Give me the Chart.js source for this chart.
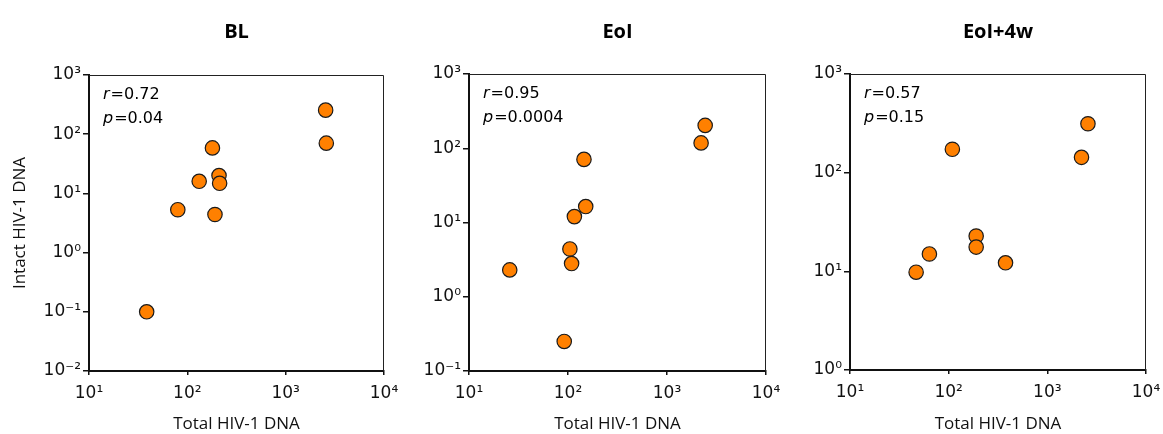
<!DOCTYPE html>
<html>
<head>
<meta charset="utf-8">
<script src="https://cdn.jsdelivr.net/npm/chart.js@4.4.1/dist/chart.umd.min.js"></script>
<style>
    body { margin: 0; background: #fff; }
    #wrap { position: relative; width: 1163px; height: 434px; }
    .panel { position: absolute; top: 0; height: 434px; }
</style>
</head>
<body>
<div id="wrap">
    <div class="panel" style="left:0px"><canvas id="chart-bl" width="400" height="434"></canvas></div>
    <div class="panel" style="left:390px"><canvas id="chart-eoi" width="390" height="434"></canvas></div>
    <div class="panel" style="left:775px"><canvas id="chart-eoi4w" width="388" height="434"></canvas></div>
</div>
<script>
const panelTitles = ['BL', 'EoI', 'EoI+4w']
const rValues = ['0.72', '0.95', '0.57']
const pValues = ['0.04', '0.0004', '0.15']

// Total HIV-1 DNA (x) and Intact HIV-1 DNA (y) per time point
const blTotal    = [2550, 2590, 180, 210, 213, 132, 80, 191, 38.6]
const blIntact   = [255, 70.6, 58.7, 20, 14.8, 16, 5.3, 4.4, 0.1]
const eoiTotal   = [2430, 2210, 145, 151, 116, 104.5, 108.7, 25.8, 91.6]
const eoiIntact  = [203, 118, 70.8, 16.4, 12, 4.4, 2.8, 2.3, 0.25]
const eoi4Total  = [2580, 2220, 109, 190, 190, 377, 63.8, 46.8]
const eoi4Intact = [313, 143, 172.6, 22.8, 17.6, 12.2, 15, 9.8]

const xTicks = [10, 100, 1000, 10000]
const blYTicks = [0.01, 0.1, 1, 10, 100, 1000]
const eoiYTicks = [0.1, 1, 10, 100, 1000]
const eoi4YTicks = [1, 10, 100, 1000]

const supMap = {'-': '⁻', '0': '⁰', '1': '¹', '2': '²', '3': '³', '4': '⁴'}

function powerLabel(v) {
    exp = Math.round(Math.log10(v))
    return '10' + String(exp).split('').map(c => supMap[c]).join('')
}

Chart.defaults.font.family = '"DejaVu Sans"'
Chart.defaults.color = '#111'

const panelDecor = {
    id: 'panelDecor',
    afterDraw(chart, args, opts) {
        const ctx = chart.ctx
        const a = chart.chartArea
        ctx.save()
        // thin top / right frame
        ctx.strokeStyle = '#222'
        ctx.lineWidth = 1
        ctx.beginPath()
        ctx.moveTo(a.left, a.top + 0.5)
        ctx.lineTo(a.right - 0.5, a.top + 0.5)
        ctx.lineTo(a.right - 0.5, a.bottom)
        ctx.stroke()
        // panel title
        ctx.fillStyle = '#000'
        ctx.textBaseline = 'middle'
        ctx.textAlign = 'center'
        ctx.font = 'bold 20px "Open Sans"'
        ctx.fillText(opts.title, (a.left + a.right) / 2, 32)
        // r and p
        ctx.textAlign = 'left'
        const lines = [['r', '=' + opts.r], ['p', '=' + opts.p]]
        lines.forEach((ln, i) => {
            let x = a.left + 14
            const y = a.top + 20 + i * 24
            ctx.font = 'italic 16px "DejaVu Sans"'
            ctx.fillText(ln[0], x, y)
            x += ctx.measureText(ln[0]).width + 1
            ctx.font = '16px "DejaVu Sans"'
            ctx.fillText(ln[1], x, y)
        })
        ctx.restore()
    }
}

function makePanel(canvasID, idx, totals, intacts, yTicks, yWidth, padRight, top, xHeight, showYTitle) {
    const pts = totals.map((v, i) => ({x: v, y: intacts[i]}))
    return new Chart(document.getElementById(canvasID), {
        type: 'scatter',
        data: {
            datasets: [{
                data: pts,
                backgroundColor: '#FF8000',
                borderColor: '#1a1a1a',
                borderWidth: 1.2,
                pointRadius: 7.2,
                pointHoverRadius: 7.2
            }]
        },
        plugins: [panelDecor],
        options: {
            responsive: false,
            animation: false,
            layout: { padding: { left: 0, right: padRight, top: top, bottom: 0 } },
            plugins: {
                legend: { display: false },
                tooltip: { enabled: false },
                panelDecor: { title: panelTitles[idx], r: rValues[idx], p: pValues[idx] }
            },
            scales: {
                x: {
                    type: 'logarithmic',
                    min: xTicks[0],
                    max: xTicks[xTicks.length - 1],
                    afterBuildTicks: (s) => { s.ticks = xTicks.map(v => ({value: v})) },
                    afterFit: (s) => { s.height = xHeight; s.paddingLeft = 0; s.paddingRight = 0 },
                    border: { display: true, color: '#111', width: 2 },
                    grid: { drawOnChartArea: false, drawTicks: true, tickLength: 4, color: '#111', lineWidth: 1.5 },
                    ticks: {
                        autoSkip: false, maxRotation: 0, padding: 8,
                        font: { size: 17 }, color: '#111',
                        callback: (v) => powerLabel(v)
                    },
                    title: {
                        display: true, text: 'Total HIV-1 DNA', color: '#111',
                        font: { family: 'Open Sans', size: 17 },
                        padding: { top: 0, bottom: 0 }
                    }
                },
                y: {
                    type: 'logarithmic',
                    min: yTicks[0],
                    max: yTicks[yTicks.length - 1],
                    afterBuildTicks: (s) => { s.ticks = yTicks.map(v => ({value: v})) },
                    afterFit: (s) => { s.width = yWidth; s.paddingTop = 0; s.paddingBottom = 0 },
                    border: { display: true, color: '#111', width: 2 },
                    grid: { drawOnChartArea: false, drawTicks: true, tickLength: 6, color: '#111', lineWidth: 1.5 },
                    ticks: {
                        autoSkip: false, padding: 2,
                        font: { size: 17 }, color: '#111',
                        callback: (v) => powerLabel(v)
                    },
                    title: {
                        display: showYTitle, text: 'Intact HIV-1 DNA', color: '#111',
                        font: { family: 'Open Sans', size: 17 },
                        padding: { top: 10, bottom: 0 }
                    }
                }
            }
        }
    })
}

makePanel('chart-bl', 0, blTotal, blIntact, blYTicks, 89, 16, 75, 63, true)
makePanel('chart-eoi', 1, eoiTotal, eoiIntact, eoiYTicks, 79, 14, 74, 63, false)
makePanel('chart-eoi4w', 2, eoi4Total, eoi4Intact, eoi4YTicks, 75, 17, 74, 64, false)
</script>
</body>
</html>
